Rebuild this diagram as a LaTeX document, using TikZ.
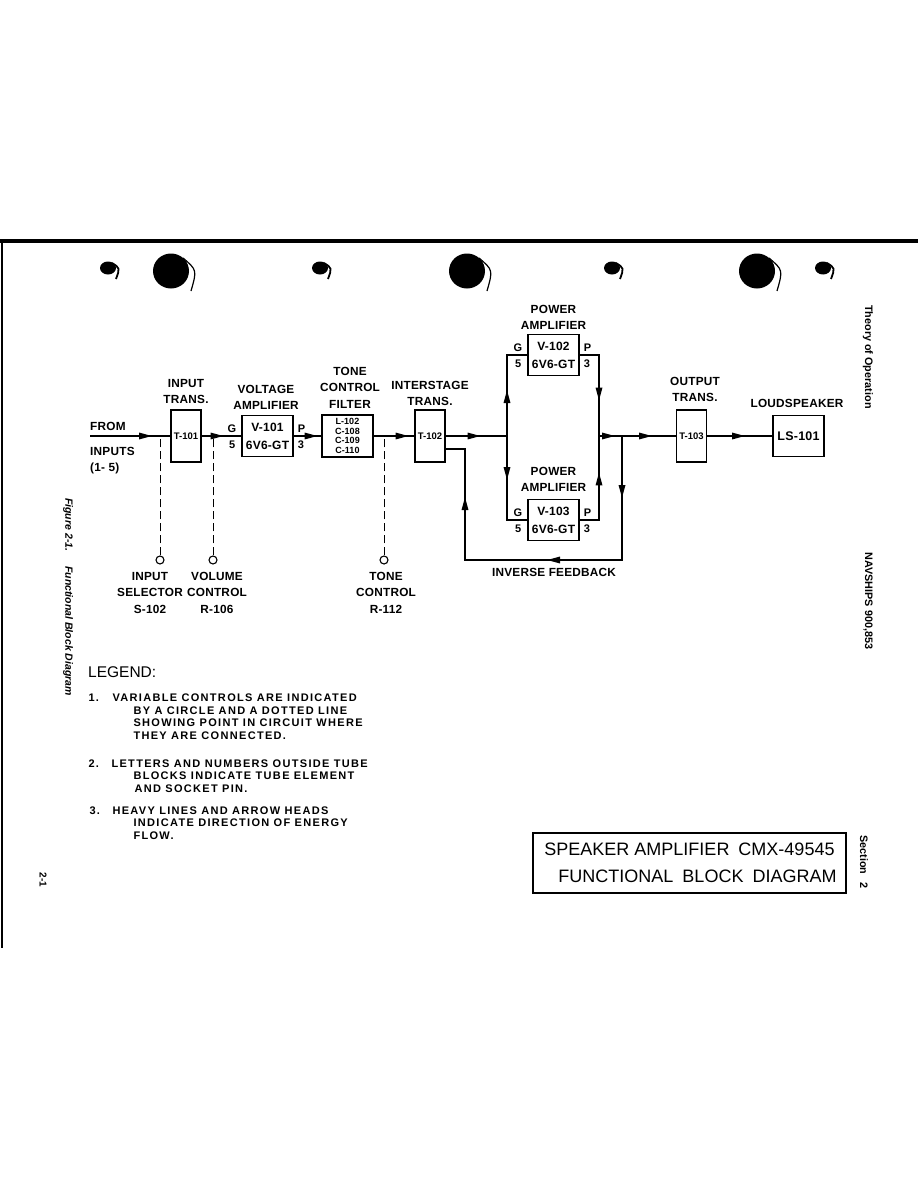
\documentclass[tikz,border=0pt]{standalone}
\usepackage{fontspec}
\setmainfont{Liberation Sans}
\newfontfamily\lblfont{Liberation Sans}[LetterSpace=2]
\newfontfamily\legfont{Liberation Sans}[LetterSpace=12]
\usetikzlibrary{arrows.meta,decorations.markings,calc}

\begin{document}
\begin{tikzpicture}[x=1pt,y=-1pt,every node/.style={inner sep=0pt},
	wire/.style={line width=1.6pt},
	flowarr/.style={postaction={decorate,decoration={markings,mark=at position #1 with {\arrow{Triangle[length=13pt,width=6.5pt]}}}}},
	blk/.style={draw,line width=1.1pt,align=center,font=\lblfont\bfseries\fontsize{12.5}{14}\selectfont},
	tube/.style={blk,minimum width=51pt,minimum height=41pt,font=\lblfont\bfseries\fontsize{12}{18}\selectfont},
	xfmr/.style={blk,minimum width=30pt,minimum height=52pt,font=\bfseries\fontsize{9.5}{10}\selectfont},
	lbl/.style={align=center,anchor=north,font=\lblfont\bfseries\fontsize{11.8}{16.5}\selectfont},
	pinlbl/.style={font=\bfseries\fontsize{11}{12}\selectfont},
	knob/.style={circle,draw,line width=1.1pt,minimum size=8pt},
	dashln/.style={line width=0.9pt,dash pattern=on 8pt off 4pt},
	side/.style={rotate=-90,font=\bfseries\fontsize{10.8}{12}\selectfont}]
	\useasboundingbox (0,0) rectangle (918,1188);
	\draw[line width=4pt] (0,241) -- (918,241);
	\draw[line width=2pt] (2,241) -- (2,948);
	\foreach \x in {171,467,757} {\fill (\x,271) ellipse [x radius=18, y radius=17.5];
		\draw[line width=1.2pt] (\x+12,258) .. controls (\x+26,270) .. (\x+20,291);}
	\foreach \x in {108,320,612,823} {\fill (\x,268) ellipse [x radius=8, y radius=6.5];
		\draw[line width=1.8pt] (\x+4,263) .. controls (\x+12,268) .. (\x+8,279);}
	% blocks
	\coordinate (in) at (90,436);
	\node[xfmr] (t101) at (186,436) {T-101};
	\node[tube] (v101) at (267.5,436) {V-101\\6V6-GT};
	\node[blk,minimum width=51pt,minimum height=42pt,font=\bfseries\fontsize{9}{9.5}\selectfont] (filt) at (347.5,436) {L-102\\C-108\\C-109\\C-110};
	\node[xfmr] (t102) at (430,436) {T-102};
	\node[tube] (v102) at (553.5,355) {V-102\\6V6-GT};
	\node[tube] (v103) at (553.5,520) {V-103\\6V6-GT};
	\node[xfmr] (t103) at (691.5,436) {T-103};
	\node[blk,minimum width=51pt,minimum height=41pt] (ls) at (798.5,436) {LS-101};
	\coordinate (sL) at (507,436); \coordinate (sR) at (599,436);
	\coordinate (fbA) at (622,436); \coordinate (fbB) at (465,560);
	\coordinate (fbC) at ($(t102.east)+(0,13)$);
	\foreach \t in {v101,v102,v103} {
		\node[pinlbl,anchor=south east] (\t-g) at ($(\t.west)+(-5,-3)$) {G};
		\node[pinlbl,anchor=north east] (\t-k) at ($(\t.west)+(-6,5)$) {5};
		\node[pinlbl,anchor=south west] (\t-p) at ($(\t.east)+(4,-3)$) {P};
		\node[pinlbl,anchor=north west] (\t-n) at ($(\t.east)+(4,5)$) {3};}
	% signal path
	\draw[wire,flowarr=62pt] (in) -- (t101);
	\draw[wire,flowarr=22pt] (t101) -- (v101);
	\draw[wire,flowarr=24pt] (v101) -- (filt);
	\draw[wire,flowarr=35pt] (filt) -- (t102);
	\draw[wire,flowarr=35pt] (t102) -- (sL);
	\draw[wire,flowarr=46pt] (sL) |- (v102);
	\draw[wire,flowarr=44pt] (sL) |- (v103);
	\draw[wire,flowarr=65pt] (v102) -| (sR);
	\draw[wire,flowarr=67pt] (v103) -| (sR);
	\draw[wire,flowarr=16pt,flowarr=53pt] (sR) -- (t103);
	\draw[wire,flowarr=38pt] (t103) -- (ls);
	\draw[wire,flowarr=62pt,flowarr=199pt,flowarr=344pt] (fbA) |- (fbB) |- (fbC);
	% controls
	\node[knob] (c1) at (160,560) {}; \node[knob] (c2) at (213,560) {}; \node[knob] (c3) at (384,560) {};
	\draw[dashln] (c1.north) -- (c1 |- in);
	\draw[dashln] (c2.north) -- (c2 |- in);
	\draw[dashln] (c3.north) -- (c3 |- in);
	\node[lbl] (c1-t) at (150,572) {INPUT\\SELECTOR\\S-102};
	\node[lbl] (c2-t) at (217,572) {VOLUME\\CONTROL\\R-106};
	\node[lbl] (c3-t) at (386,572) {TONE\\CONTROL\\R-112};
	% labels
	\node[lbl,anchor=north west] (from) at (90,422) {FROM};
	\node[lbl,anchor=north west,align=left] (inputs) at (90,447) {INPUTS\\(1- 5)};
	\node[lbl] (t101-t) at (186,379) {INPUT\\TRANS.};
	\node[lbl] (v101-t) at (266,385) {VOLTAGE\\AMPLIFIER};
	\node[lbl] (filt-t) at (350,367) {TONE\\CONTROL\\FILTER};
	\node[lbl] (t102-t) at (430,381) {INTERSTAGE\\TRANS.};
	\node[lbl] (v102-t) at (553.5,305) {POWER\\AMPLIFIER};
	\node[lbl] (v103-t) at (553.5,467) {POWER\\AMPLIFIER};
	\node[lbl] (t103-t) at (695,377) {OUTPUT\\TRANS.};
	\node[lbl] (ls-t) at (797,399) {LOUDSPEAKER};
	\node[lbl] (fb-t) at (554,568) {INVERSE FEEDBACK};
	% legend
	\node[anchor=north west,font=\fontsize{15.5}{18}\selectfont] (leg) at (88,666.5) {LEGEND:};
	\begin{scope}[every node/.style={anchor=north west,align=left,font=\legfont\bfseries\fontsize{11}{12.6}\selectfont}]
	\node (leg1) at (85,690.5) {\makebox[24pt][l]{1.}VARIABLE CONTROLS ARE INDICATED\\\hspace*{45pt}BY A CIRCLE AND A DOTTED LINE\\\hspace*{45pt}SHOWING POINT IN CIRCUIT WHERE\\\hspace*{45pt}THEY ARE CONNECTED.};
	\node (leg2) at (85,756) {\makebox[23pt][l]{2.}LETTERS AND NUMBERS OUTSIDE TUBE\\\hspace*{45pt}BLOCKS INDICATE TUBE ELEMENT\\\hspace*{46pt}AND SOCKET PIN.};
	\node (leg3) at (86,803) {\makebox[23pt][l]{3.}HEAVY LINES AND ARROW HEADS\\\hspace*{44pt}INDICATE DIRECTION OF ENERGY\\\hspace*{44pt}FLOW.};
	\end{scope}
	% title block and margins
	\node[draw,line width=1.1pt,minimum width=313pt,minimum height=60pt,align=center,font=\fontsize{18}{27}\selectfont] (ttl) at (689.5,863) {SPEAKER AMPLIFIER\enspace CMX-49545\\\hspace*{16pt}FUNCTIONAL\enspace BLOCK\enspace DIAGRAM};
	\node[side] (theory) at (868,357) {Theory of Operation};
	\node[side] (navy) at (868,601) {NAVSHIPS 900,853};
	\node[side] (sect) at (864,862) {Section\hspace{8pt}2};
	\node[side,font=\bfseries\itshape\fontsize{10.5}{12}\selectfont] (figcap) at (68,597) {Figure 2-1.\hspace{15pt}Functional Block Diagram};
	\node[side,font=\bfseries\fontsize{10}{12}\selectfont] (pageno) at (43,880) {2-1};
\end{tikzpicture}
\end{document}
